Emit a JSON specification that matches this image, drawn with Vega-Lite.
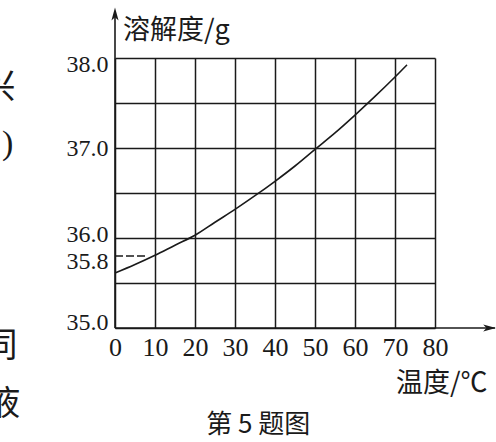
{
  "$schema": "https://vega.github.io/schema/vega-lite/v6.json",
  "width": 320,
  "height": 270,
  "autosize": {"type": "none"},
  "padding": {"left": 115, "top": 58, "right": 61, "bottom": 114},
  "background": "white",
  "config": {"view": {"stroke": null}},
  "data": {"values": [{}]},
  "layer": [
    {
      "data": {"values": [
        {"t": 0, "s": 35.61}, {"t": 5, "s": 35.705}, {"t": 10, "s": 35.808},
        {"t": 15, "s": 35.92}, {"t": 20, "s": 36.03}, {"t": 25, "s": 36.175},
        {"t": 30, "s": 36.318}, {"t": 35, "s": 36.47}, {"t": 40, "s": 36.63},
        {"t": 45, "s": 36.80}, {"t": 50, "s": 36.985}, {"t": 55, "s": 37.168},
        {"t": 60, "s": 37.366}, {"t": 65, "s": 37.573}, {"t": 70, "s": 37.789},
        {"t": 73, "s": 37.924}
      ]},
      "mark": {"type": "line", "interpolate": "monotone", "color": "#1a1a1a", "strokeWidth": 1.6},
      "encoding": {
        "x": {
          "field": "t", "type": "quantitative",
          "scale": {"domain": [0, 80], "nice": false, "zero": false},
          "axis": {
            "title": null, "values": [0, 10, 20, 30, 40, 50, 60, 70, 80], "tickCount": 40,
            "grid": true, "gridColor": "#1a1a1a", "gridWidth": 1.5, "gridOpacity": 1,
            "domain": false, "ticks": false, "tickSize": 0,
            "labelFont": "Liberation Serif", "labelFontSize": 26, "labelColor": "#1a1a1a",
            "labelPadding": 6, "labelOverlap": false, "labelFlush": false, "labelBound": false
          }
        },
        "y": {
          "field": "s", "type": "quantitative",
          "scale": {"domain": [35, 38], "nice": false, "zero": false},
          "axis": {
            "title": null, "values": [35, 35.5, 35.8, 36, 36.5, 37, 37.5, 38], "tickCount": 40,
            "format": ".1f",
            "grid": true, "gridColor": "#1a1a1a", "gridWidth": 1.5,
            "gridOpacity": {"condition": {"test": "datum.value == 35.8", "value": 0}, "value": 1},
            "labelOpacity": {"condition": {"test": "datum.value == 35.5 || datum.value == 36.5 || datum.value == 37.5", "value": 0}, "value": 1},
            "labelOffset": {"condition": [
              {"test": "datum.value == 35.8", "value": 5},
              {"test": "datum.value == 36", "value": -4}
            ], "value": 0},
            "domain": false, "ticks": false, "tickSize": 0,
            "labelFont": "Liberation Serif", "labelFontSize": 24, "labelColor": "#1a1a1a",
            "labelPadding": 7, "labelOverlap": false, "labelFlush": true, "labelFlushOffset": 6, "labelBound": false
          }
        }
      }
    },
    {
      "mark": {"type": "rule", "color": "#1a1a1a", "strokeWidth": 1.5, "strokeDash": [8, 3]},
      "encoding": {"x": {"datum": 0}, "x2": {"datum": 7.75}, "y": {"datum": 35.8}}
    },
    {
      "mark": {"type": "rule", "color": "#1a1a1a", "strokeWidth": 1.6},
      "encoding": {"x": {"datum": 0}, "y": {"datum": 35}, "y2": {"datum": 38.5}}
    },
    {
      "mark": {"type": "rule", "color": "#1a1a1a", "strokeWidth": 1.6},
      "encoding": {"x": {"datum": 0}, "x2": {"datum": 95}, "y": {"datum": 35}}
    },
    {
      "mark": {"type": "point", "shape": "M0,0L0.55,2L0,1.5L-0.55,2Z", "filled": true, "size": 169, "color": "#1a1a1a", "opacity": 1, "strokeWidth": 0},
      "encoding": {"x": {"datum": 0}, "y": {"datum": 38.56}}
    },
    {
      "mark": {"type": "point", "shape": "M0,0L-2,-0.55L-1.5,0L-2,0.55Z", "filled": true, "size": 169, "color": "#1a1a1a", "opacity": 1, "strokeWidth": 0},
      "encoding": {"x": {"datum": 95.3}, "y": {"datum": 35}}
    },
    {
      "mark": {"type": "text", "text": "溶解度/g", "font": "Noto Sans CJK SC", "fontSize": 27, "align": "left", "baseline": "middle", "color": "#1a1a1a"},
      "encoding": {"x": {"datum": 2}, "y": {"datum": 38.303}}
    },
    {
      "mark": {"type": "text", "text": "温度/℃", "font": "Noto Sans CJK SC", "fontSize": 27, "align": "center", "baseline": "middle", "color": "#1a1a1a"},
      "encoding": {"x": {"datum": 81.7}, "y": {"datum": 34.381}}
    },
    {
      "mark": {"type": "text", "text": "第 5 题图", "font": "Noto Sans CJK SC", "fontSize": 26, "align": "center", "baseline": "middle", "color": "#1a1a1a"},
      "encoding": {"x": {"datum": 35.8}, "y": {"datum": 33.926}}
    },
    {
      "mark": {"type": "text", "text": "兴", "font": "Noto Sans CJK SC", "fontSize": 34, "align": "right", "baseline": "middle", "color": "#1a1a1a"},
      "encoding": {"x": {"datum": -24.9}, "y": {"datum": 37.67}}
    },
    {
      "mark": {"type": "text", "text": ")", "font": "Liberation Serif", "fontSize": 34, "align": "right", "baseline": "middle", "color": "#1a1a1a"},
      "encoding": {"x": {"datum": -25.4}, "y": {"datum": 37.04}}
    },
    {
      "mark": {"type": "text", "text": "同", "font": "Noto Sans CJK SC", "fontSize": 34, "align": "right", "baseline": "middle", "color": "#1a1a1a"},
      "encoding": {"x": {"datum": -24.4}, "y": {"datum": 34.79}}
    },
    {
      "mark": {"type": "text", "text": "液", "font": "Noto Sans CJK SC", "fontSize": 34, "align": "right", "baseline": "middle", "color": "#1a1a1a"},
      "encoding": {"x": {"datum": -23.7}, "y": {"datum": 34.15}}
    }
  ]
}
